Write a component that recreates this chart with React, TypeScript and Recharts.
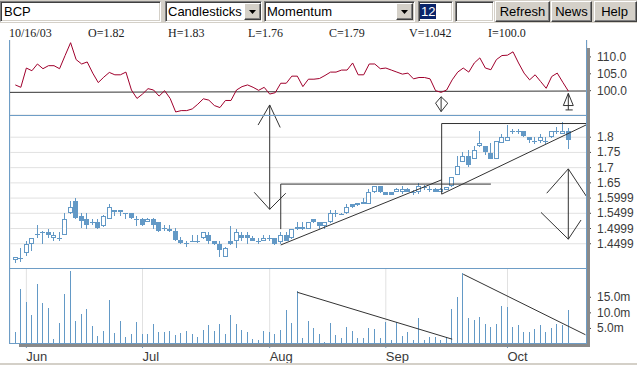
import React from 'react';
import { ComposedChart, Bar, Line, XAxis, YAxis, CartesianGrid, ReferenceLine } from 'recharts';

// ---------- data ----------
const opens = [1.397,1.404,1.420,1.449,1.478,1.489,1.489,1.469,1.470,1.480,1.551,1.591,1.541,1.532,1.520,1.521,1.507,1.532,1.561,1.561,1.551,1.551,1.532,1.532,1.521,1.532,1.521,1.502,1.500,1.491,1.461,1.451,1.460,1.460,1.468,1.479,1.459,1.448,1.407,1.459,1.459,1.479,1.479,1.468,1.459,1.459,1.468,1.468,1.457,1.479,1.468,1.498,1.506,1.498,1.530,1.520,1.508,1.520,1.550,1.547,1.550,1.580,1.583,1.580,1.580,1.619,1.639,1.619,1.619,1.620,1.620,1.631,1.620,1.620,1.636,1.631,1.631,1.620,1.627,1.639,1.677,1.718,1.737,1.728,1.770,1.770,1.747,1.730,1.781,1.789,1.820,1.820,1.820,1.800,1.789,1.789,1.789,1.800,1.820,1.811,1.82];
const highs = [1.408,1.435,1.460,1.470,1.510,1.491,1.500,1.489,1.489,1.551,1.591,1.601,1.551,1.551,1.532,1.532,1.543,1.581,1.562,1.562,1.552,1.552,1.541,1.533,1.533,1.533,1.522,1.511,1.511,1.502,1.471,1.460,1.480,1.480,1.488,1.487,1.460,1.459,1.438,1.508,1.498,1.490,1.487,1.477,1.468,1.479,1.479,1.469,1.490,1.487,1.499,1.520,1.520,1.522,1.531,1.521,1.521,1.560,1.560,1.550,1.580,1.581,1.584,1.599,1.629,1.640,1.640,1.620,1.620,1.632,1.639,1.632,1.628,1.650,1.644,1.639,1.632,1.632,1.637,1.669,1.737,1.751,1.759,1.770,1.820,1.771,1.781,1.789,1.811,1.839,1.828,1.828,1.821,1.801,1.800,1.809,1.800,1.821,1.833,1.850,1.83];
const lows = [1.388,1.390,1.409,1.427,1.469,1.449,1.469,1.458,1.460,1.479,1.549,1.532,1.502,1.500,1.511,1.499,1.505,1.530,1.541,1.541,1.532,1.532,1.507,1.507,1.520,1.499,1.489,1.491,1.489,1.460,1.449,1.438,1.455,1.452,1.466,1.448,1.447,1.407,1.406,1.447,1.437,1.459,1.448,1.458,1.448,1.458,1.459,1.447,1.448,1.458,1.466,1.495,1.495,1.497,1.519,1.498,1.500,1.519,1.539,1.545,1.547,1.569,1.575,1.579,1.579,1.618,1.618,1.609,1.609,1.619,1.613,1.619,1.611,1.613,1.628,1.620,1.619,1.619,1.626,1.638,1.676,1.717,1.701,1.727,1.769,1.743,1.727,1.729,1.780,1.788,1.811,1.811,1.802,1.781,1.778,1.781,1.778,1.799,1.811,1.810,1.76];
const closes = [1.407,1.400,1.449,1.469,1.481,1.489,1.480,1.480,1.469,1.532,1.571,1.535,1.525,1.511,1.521,1.502,1.541,1.571,1.553,1.553,1.551,1.535,1.532,1.511,1.532,1.511,1.491,1.502,1.491,1.461,1.451,1.451,1.460,1.460,1.487,1.459,1.448,1.429,1.437,1.448,1.487,1.470,1.470,1.459,1.459,1.468,1.468,1.448,1.479,1.459,1.498,1.506,1.498,1.520,1.521,1.508,1.520,1.550,1.550,1.547,1.570,1.570,1.576,1.588,1.619,1.639,1.619,1.610,1.610,1.631,1.631,1.620,1.621,1.639,1.636,1.631,1.620,1.631,1.636,1.668,1.707,1.737,1.710,1.757,1.781,1.751,1.728,1.787,1.800,1.800,1.820,1.820,1.803,1.792,1.789,1.800,1.789,1.820,1.820,1.820,1.79];
const volumes = [3.9,17.6,13.4,9.2,19.3,13.1,11.4,1.6,6.9,16.0,23.5,7.5,9.5,11.1,5.9,2.6,4.2,14.1,3.6,7.5,2.3,3.3,7.2,3.3,3.3,6.5,3.9,3.9,4.2,2.9,3.6,4.2,3.3,2.3,4.6,6.2,4.2,6.5,3.3,9.2,6.5,4.6,3.9,1.6,1.3,4.2,3.9,3.3,4.6,10.8,6.9,17.0,2.0,7.5,5.2,3.3,0.7,6.9,2.9,2.0,5.6,4.2,2.0,2.0,5.2,4.9,2.0,7.2,1.3,7.2,2.6,3.9,1.3,8.5,1.3,2.3,2.3,1.3,2.3,11.1,15.0,22.9,8.5,7.8,8.8,6.5,5.6,6.5,12.1,11.8,5.6,6.2,3.9,3.9,4.9,6.2,3.9,5.2,6.5,6.2,10.8];
const momentum = [101.7,101.0,106.7,105.9,107.9,106.5,107.4,107.4,106.5,110.4,114.2,109.2,107.9,108.5,105.2,102.4,104.0,105.4,104.7,104.7,105.5,100.2,97.7,99.0,100.6,100.2,98.4,100.0,97.7,93.7,94.1,94.1,94.6,96.0,97.6,97.2,95.6,95.0,97.1,97.1,100.2,101.2,101.7,101.0,100.1,101.0,99.0,99.4,102.2,102.2,104.3,104.3,101.2,103.4,103.4,103.6,104.5,105.5,105.5,106.1,106.1,108.2,104.7,104.7,107.9,107.9,106.5,106.7,106.1,105.5,104.9,105.2,103.5,103.9,103.9,103.5,100.0,99.5,100.2,103.2,105.5,106.7,105.5,108.2,109.7,106.7,106.2,109.2,110.4,110.5,111.5,108.2,105.2,103.2,104.7,102.7,100.7,104.2,105.2,102.5,99.9];

const monthTickIndex = [2, 23, 46, 67, 89];
const monthLabels = ['Jun', 'Jul', 'Aug', 'Sep', 'Oct'];
const priceTicks = [1.45, 1.5, 1.55, 1.6, 1.65, 1.7, 1.75, 1.8];
const priceTickLabels = ['1.4499', '1.4999', '1.5499', '1.5999', '1.65', '1.7', '1.75', '1.8'];
const momentumTicks = [100, 105, 110];
const volumeTicks = [5, 10, 15];

const headerItems = ['10/16/03', 'O=1.82', 'H=1.83', 'L=1.76', 'C=1.79', 'V=1.042', 'I=100.0'];

// user-drawn annotation segments, in data units [x1, y1, x2, y2]
const priceSegments = [
  [48, 1.646, 48, 1.498],
  [48, 1.646, 86.0, 1.646],
  [48, 1.446, 77.1, 1.660],
  [77.1, 1.845, 77.1, 1.613],
  [77.1, 1.845, 103.3, 1.845],
  [77.1, 1.613, 103.3, 1.841],
  [46, 1.906, 46, 1.563],
  [46, 1.906, 43.9, 1.840],
  [46, 1.906, 47.9, 1.832],
  [43.2, 1.619, 46, 1.563],
  [48.9, 1.616, 46, 1.563],
  [100, 1.696, 100, 1.465],
  [96.1, 1.616, 100, 1.696],
  [100, 1.696, 103.3, 1.605],
  [95.06, 1.553, 100, 1.465],
  [102.3, 1.528, 100, 1.465],
];
const momentumSegments = [
  [-0.96, 99.5, 103.38, 99.9],
  [77, 98.2, 77, 93.8],
  [77, 98.2, 76.0, 96.3],
  [77, 98.2, 78.2, 96.3],
  [76.0, 96.3, 77, 93.8],
  [78.2, 96.3, 77, 93.8],
  [100, 99.2, 100, 94.3],
  [100, 99.2, 99.1, 95.6],
  [100, 99.2, 100.9, 95.6],
  [99.1, 95.6, 100.9, 95.6],
  [99.5, 94.3, 100.8, 94.3],
];
const volumeSegments = [
  [51, 16.6, 79, 1.55],
  [81, 22.4, 103.1, 2.97],
];

const X_DOMAIN: [number, number] = [-0.96, 103.38];

const data = opens.map((o, i) => ({
  i,
  open: o,
  high: highs[i],
  low: lows[i],
  close: closes[i],
  range: [lows[i], highs[i]],
  vol: volumes[i],
  mom: momentum[i],
}));

// ---------- styles ----------
const BLUE = '#6399c6';
const BORDER = '#6e9dc6';
const GRID = '#e1e1e1';
const ANN = '#333333';
const MOM = '#a0002c';
const AXIS_TEXT = '#3a3a3a';
const SANS = "'Liberation Sans', Arial, sans-serif";
const SERIF = "'Liberation Serif', 'Times New Roman', serif";
const WIN = '#d4d0c8';

function CandleShape(props: any) {
  const { x, y, width, height, payload } = props;
  if (x == null || y == null || !payload) return null;
  const top = Math.min(y, y + height);
  const h = Math.abs(height);
  const span = payload.high - payload.low;
  const ppu = span > 0 ? h / span : 0;
  const yO = top + (payload.high - payload.open) * ppu;
  const yC = top + (payload.high - payload.close) * ppu;
  const cx = Math.floor(x + width / 2) + 0.5;
  const bTop = Math.round(Math.min(yO, yC));
  const bBot = Math.round(Math.max(yO, yC));
  const up = payload.close > payload.open;
  const flat = bBot - bTop < 2;
  let body;
  if (flat) {
    body = <line x1={cx - 2.5} x2={cx + 2.5} y1={bTop + 0.5} y2={bTop + 0.5} stroke={BLUE} />;
  } else if (up) {
    body = <rect x={cx - 2} y={bTop + 0.5} width={4} height={bBot - bTop - 1} fill="#ffffff" stroke={BLUE} strokeWidth={1} />;
  } else {
    body = <rect x={cx - 2.5} y={bTop} width={5} height={bBot - bTop} fill={BLUE} />;
  }
  return (
    <g>
      <line x1={cx} x2={cx} y1={Math.round(top)} y2={Math.round(top + h)} stroke={BLUE} strokeWidth={1} />
      {body}
    </g>
  );
}

function VolShape(props: any) {
  const { x, y, width, height } = props;
  if (x == null || y == null) return null;
  const cx = Math.floor(x + width / 2) + 0.5;
  return <line x1={cx} x2={cx} y1={Math.round(y)} y2={Math.round(y + height)} stroke={BLUE} strokeWidth={1} />;
}

const rightTick = (fmt: (v: number) => string) => (p: any) => (
  <text x={597} y={p.y} dy={4} fontSize={12} fontFamily={SANS} fill={AXIS_TEXT} textAnchor="start">
    {fmt(p.payload.value)}
  </text>
);

const MonthTick = (p: any) => {
  const idx = monthTickIndex.indexOf(p.payload.value);
  return (
    <text x={p.x} y={93} fontSize={13} fontFamily={SANS} fill={AXIS_TEXT} textAnchor="start">
      {monthLabels[idx]}
    </text>
  );
};

const hiddenX = (
  <XAxis type="number" dataKey="i" domain={X_DOMAIN} allowDataOverflow ticks={monthTickIndex} interval={0}
    height={0} tick={false} axisLine={false} tickLine={false} />
);

const segLines = (segs: number[][], prefix: string) =>
  segs.map((s, k) => (
    <ReferenceLine key={prefix + k} segment={[{ x: s[0], y: s[1] }, { x: s[2], y: s[3] }]} stroke={ANN}
      strokeWidth={1} ifOverflow="visible" />
  ));

const box = (left: number, top: number, width: number, height: number, extra: any = {}) => ({
  position: 'absolute' as const, left, top, width, height, boxSizing: 'border-box' as const, ...extra,
});

const inset = { background: '#fff', borderTop: '1px solid #808080', borderLeft: '1px solid #808080', borderRight: '1px solid #fff', borderBottom: '1px solid #fff', boxShadow: 'inset 1px 1px 0 #404040, inset -1px -1px 0 #d4d0c8' };
const raised = { background: WIN, borderTop: '1px solid #fff', borderLeft: '1px solid #fff', borderRight: '1px solid #404040', borderBottom: '1px solid #404040', boxShadow: 'inset -1px -1px 0 #808080' };

function DropBtn({ left }: { left: number }) {
  return (
    <div style={box(left, 3, 17, 17, raised)}>
      <svg width={15} height={15} style={{ position: 'absolute', left: 0, top: 0 }}>
        <path d="M4 6 L11 6 L7.5 10 Z" fill="#000" />
      </svg>
    </div>
  );
}

export default function App() {
  const txt = { fontFamily: SANS, fontSize: 13, color: '#000', lineHeight: '13px', position: 'absolute' as const };
  return (
    <div style={{ position: 'absolute', left: 0, top: 0, width: 637, height: 365, overflow: 'hidden', background: '#fff' }}>
      {/* toolbar */}
      <div style={box(0, 0, 637, 23, { background: WIN })} />
      <div style={box(0, 1, 161, 21, inset)} />
      <div style={{ ...txt, left: 4, top: 5 }}>BCP</div>
      <div style={box(165, 1, 97, 21, inset)} />
      <div style={{ ...txt, left: 168, top: 5 }}>Candlesticks</div>
      <DropBtn left={244} />
      <div style={box(264, 1, 151, 21, inset)} />
      <div style={{ ...txt, left: 267, top: 5 }}>Momentum</div>
      <DropBtn left={396} />
      <div style={box(418, 1, 35, 21, inset)} />
      <div style={{ ...txt, left: 420, top: 4, background: '#0a246a', color: '#fff', padding: '0 1px', height: 15, lineHeight: '15px' }}>12</div>
      <div style={box(455, 1, 39, 21, inset)} />
      <div style={box(495, 1, 55, 21, raised)} />
      <div style={{ ...txt, left: 495, width: 55, textAlign: 'center', top: 5 }}>Refresh</div>
      <div style={box(551, 1, 41, 21, raised)} />
      <div style={{ ...txt, left: 551, width: 41, textAlign: 'center', top: 5 }}>News</div>
      <div style={box(594, 1, 43, 21, raised)} />
      <div style={{ ...txt, left: 594, width: 41, textAlign: 'center', top: 5 }}>Help</div>

      {/* header values */}
      {headerItems.map((h, k) => (
        <div key={h} style={{ position: 'absolute', top: 27, left: [9, 88, 168, 248, 329, 409, 488][k], fontFamily: SERIF, fontSize: 12, lineHeight: '12px', color: '#222' }}>
          {h}
        </div>
      ))}

      {/* momentum panel */}
      <div style={{ position: 'absolute', left: 0, top: 40, width: 637, height: 75 }}>
        <ComposedChart width={637} height={75} data={data} margin={{ top: 0, right: 0, bottom: 0, left: 10 }}>
          <CartesianGrid horizontal={false} stroke={GRID} />
          {hiddenX}
          <YAxis orientation="right" width={50} domain={[92.8, 115.0]} allowDataOverflow ticks={momentumTicks} interval={0}
            axisLine={false} tickLine={{ stroke: '#444' }} tickSize={4} tick={rightTick((v) => v.toFixed(1))} />
          {segLines(momentumSegments, 'm')}
          <Line type="linear" dataKey="mom" stroke={MOM} strokeWidth={1} dot={false} isAnimationActive={false} />
        </ComposedChart>
      </div>

      {/* price panel (svg extends upward so the arrow can reach into the momentum panel) */}
      <div style={{ position: 'absolute', left: 0, top: 40, width: 637, height: 229 }}>
        <ComposedChart width={637} height={229} data={data} margin={{ top: 75, right: 0, bottom: 0, left: 10 }}>
          <CartesianGrid stroke={GRID} />
          {hiddenX}
          <YAxis orientation="right" width={50} domain={[1.367, 1.873]} allowDataOverflow ticks={priceTicks} interval={0}
            axisLine={false} tickLine={{ stroke: '#444' }} tickSize={4}
            tick={rightTick((v) => priceTickLabels[priceTicks.indexOf(v)] ?? String(v))} />
          <Bar dataKey="range" shape={CandleShape} barSize={5} isAnimationActive={false} />
          {segLines(priceSegments, 'p')}
        </ComposedChart>
      </div>

      {/* volume panel */}
      <div style={{ position: 'absolute', left: 0, top: 268, width: 637, height: 97 }}>
        <ComposedChart width={637} height={97} data={data} margin={{ top: 0, right: 0, bottom: 0, left: 10 }}>
          <CartesianGrid horizontal={false} stroke={GRID} />
          <XAxis type="number" dataKey="i" domain={X_DOMAIN} allowDataOverflow ticks={monthTickIndex} interval={0}
            height={21} tick={MonthTick} axisLine={false} tickLine={{ stroke: BORDER }} tickSize={4} />
          <YAxis orientation="right" width={50} domain={[0, 24.4]} allowDataOverflow ticks={volumeTicks} interval={0}
            axisLine={false} tickLine={{ stroke: '#444' }} tickSize={4} tick={rightTick((v) => v.toFixed(1) + 'm')} />
          <Bar dataKey="vol" shape={VolShape} barSize={1} isAnimationActive={false} />
          {segLines(volumeSegments, 'v')}
        </ComposedChart>
      </div>

      {/* panel frames */}
      <div style={box(9, 40, 1, 304, { background: BORDER })} />
      <div style={box(586, 40, 1, 304, { background: BORDER })} />
      <div style={box(9, 115, 578, 1, { background: BORDER })} />
      <div style={box(9, 268, 578, 1, { background: BORDER })} />
      <div style={box(9, 343, 578, 1, { background: BORDER })} />
      <div style={box(587, 48, 3, 299, { background: '#8a8a8a' })} />
      <div style={box(19, 344, 571, 3, { background: '#8a8a8a' })} />
      <div style={box(0, 363, 637, 2, { background: WIN })} />
    </div>
  );
}
